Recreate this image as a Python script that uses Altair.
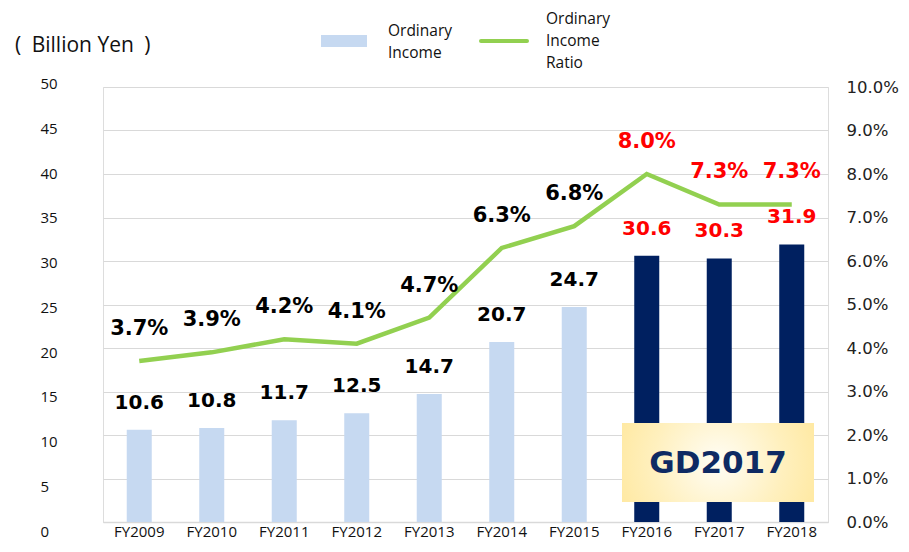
import altair as alt
import pandas as pd

years = ["FY2009", "FY2010", "FY2011", "FY2012", "FY2013",
         "FY2014", "FY2015", "FY2016", "FY2017", "FY2018"]
ordinary_income = [10.6, 10.8, 11.7, 12.5, 14.7, 20.7, 24.7, 30.6, 30.3, 31.9]
income_ratio_pct = [3.7, 3.9, 4.2, 4.1, 4.7, 6.3, 6.8, 8.0, 7.3, 7.3]
plan = ["Before", "Before", "Before", "Before", "Before",
        "Before", "Before", "GD2017", "GD2017", "GD2017"]
left_ticks = [0, 5, 10, 15, 20, 25, 30, 35, 40, 45, 50]
right_ticks_pct = [0, 1, 2, 3, 4, 5, 6, 7, 8, 9, 10]

df = pd.DataFrame({
    "year": years,
    "income": ordinary_income,
    "ratio": [r / 100 for r in income_ratio_pct],
    "income_label": [f"{v:.1f}" for v in ordinary_income],
    "ratio_label": [f"{r:.1f}%" for r in income_ratio_pct],
    "plan": plan,
})

LIGHT = "#C6D9F1"
NAVY = "#002060"
GREEN = "#92D050"
RED = "#FF0000"
GRID = "#D9D9D9"
TXT_FONT = "Open Sans"

x_enc = alt.X(
    "year:N", sort=years,
    scale=alt.Scale(paddingInner=0.655, paddingOuter=0.3275),
    axis=alt.Axis(title=None, labelAngle=0, labelFont=TXT_FONT, labelFontSize=15,
                  labelColor="#111", labelPadding=2, ticks=False, grid=False,
                  domain=True, domainColor=GRID, domainWidth=1.5),
)

y_inc_scale = alt.Scale(domain=[0, 50], nice=False, zero=True)
y_rat_scale = alt.Scale(domain=[0, 0.1], nice=False, zero=True)

is_gd = "datum.plan == 'GD2017'"

bars = alt.Chart(df).mark_bar().encode(
    x=x_enc,
    y=alt.Y("income:Q", scale=y_inc_scale,
            axis=alt.Axis(orient="left", values=left_ticks, title=None, grid=True,
                          gridColor=GRID, gridWidth=1, ticks=False, domain=False,
                          labelAlign="left", labelPadding=63, labelFont=TXT_FONT,
                          labelFontSize=15, labelColor="#111",
                          labelOffset={"expr": "(50 - datum.value) * 0.256 - 3.5"})),
    color=alt.condition(is_gd, alt.value(NAVY), alt.value(LIGHT)),
)

bar_text = alt.Chart(df).mark_text(
    font="DejaVu Sans", fontWeight="bold", fontSize=20, dy=-27, baseline="middle"
).encode(
    x=alt.X("year:N", sort=years),
    y=alt.Y("income:Q", scale=y_inc_scale, axis=None),
    text="income_label:N",
    color=alt.condition(is_gd, alt.value(RED), alt.value("#000000")),
)

line = alt.Chart(df).mark_line(color=GREEN, strokeWidth=4.5).encode(
    x=alt.X("year:N", sort=years),
    y=alt.Y("ratio:Q", scale=y_rat_scale,
            axis=alt.Axis(orient="right", values=[v / 100 for v in right_ticks_pct],
                          format=".1%", title=None, grid=False, ticks=False,
                          domain=False, labelPadding=18, labelFont="DejaVu Sans",
                          labelFontSize=16.5, labelColor="#222")),
)

ratio_text = alt.Chart(df).mark_text(
    font="DejaVu Sans", fontWeight="bold", fontSize=21, dy=-32, baseline="middle"
).encode(
    x=alt.X("year:N", sort=years),
    y=alt.Y("ratio:Q", scale=y_rat_scale, axis=None),
    text="ratio_label:N",
    color=alt.condition(is_gd, alt.value(RED), alt.value("#000000")),
)

one = pd.DataFrame({"a": [0]})

unit = alt.Chart(one).mark_text(
    text="(\u2002Billion Yen\u2002)", font=TXT_FONT, fontSize=21, align="left",
    baseline="middle", color="#111").encode(x=alt.value(-88), y=alt.value(-41))

leg_rect = alt.Chart(one).mark_rect(color=LIGHT).encode(
    x=alt.value(218), x2=alt.value(264), y=alt.value(-52), y2=alt.value(-40))
leg_line = alt.Chart(one).mark_rule(color=GREEN, strokeWidth=4, strokeCap="round").encode(
    x=alt.value(378), x2=alt.value(424), y=alt.value(-46))

def leg_txt(t, x, y):
    return alt.Chart(one).mark_text(
        text=t, font=TXT_FONT, fontSize=15.5, align="left", baseline="middle",
        color="#111").encode(x=alt.value(x), y=alt.value(y))

leg_texts = [
    leg_txt("Ordinary", 285, -56), leg_txt("Income", 285, -34),
    leg_txt("Ordinary", 443, -68), leg_txt("Income", 443, -46),
    leg_txt("Ratio", 443, -24),
]

gd_box = alt.Chart(one).mark_rect(
    fill=alt.RadialGradient(
        gradient="radial", x1=0.5, y1=0.5, r1=0.0, x2=0.5, y2=0.5, r2=0.75,
        stops=[alt.GradientStop(color="#FFFDF5", offset=0),
               alt.GradientStop(color="#FFF0BE", offset=0.45),
               alt.GradientStop(color="#FFE287", offset=1)]),
).encode(x=alt.value(519), x2=alt.value(711), y=alt.value(336), y2=alt.value(415))

gd_text = alt.Chart(one).mark_text(
    text="GD2017", font="DejaVu Sans", fontWeight="bold", fontSize=31,
    color="#0E2A63", align="center", baseline="middle").encode(
    x=alt.value(615), y=alt.value(377))

chart = alt.layer(
    bars, bar_text, line, ratio_text, gd_box, gd_text,
    unit, leg_rect, leg_line, *leg_texts,
).resolve_scale(y="independent").properties(
    width=725, height=435, autosize="none",
    padding={"left": 95, "top": 79, "right": 73, "bottom": 22},
).configure_view(stroke=None).configure(background="white")

chart.save("out.html", embed_options={"renderer": "svg", "actions": False})
